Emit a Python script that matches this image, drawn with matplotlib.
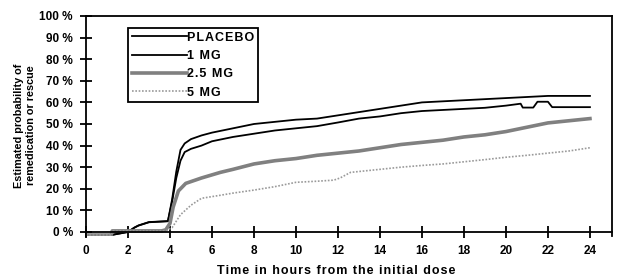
import matplotlib
matplotlib.use("Agg")
import matplotlib.pyplot as plt

plt.rcParams['font.family'] = ['Liberation Sans', 'DejaVu Sans']
plt.rcParams['font.weight'] = 'bold'

series_names = ["PLACEBO", "1 MG", "2.5 MG", "5 MG"]

placebo_t = [0, 1.2, 2.0, 2.3, 2.5, 3.0, 3.9, 4.1, 4.3, 4.5, 4.7, 5.0, 5.5, 6.0, 7.0, 8.0, 9.0, 10.0,
             11.0, 12.0, 13.0, 14.0, 15.0, 16.0, 17.0, 18.0, 19.0, 20.0, 21.0, 22.0, 23.0, 24.0]
placebo_v = [-1.4, -1.4, 0, 2, 3, 4.6, 5, 15, 28, 38, 41, 43, 44.7, 46, 48, 50, 51, 52,
             52.5, 54, 55.5, 57, 58.5, 60, 60.5, 61, 61.5, 62, 62.5, 63, 63, 63]

mg1_t = [0, 1.2, 2.0, 2.3, 2.5, 3.0, 3.9, 4.1, 4.3, 4.5, 4.7, 5.0, 5.5, 6.0, 7.0, 8.0, 9.0, 10.0,
         11.0, 12.0, 13.0, 14.0, 15.0, 16.0, 17.0, 18.0, 19.0, 20.0, 20.7, 20.8, 21.3, 21.5, 22.0,
         22.2, 24.0]
mg1_v = [-1.4, -1.4, 0, 2, 3, 4.5, 5, 14, 25, 33, 37, 38.5, 40, 42, 44, 45.5, 47, 48,
         49, 50.7, 52.5, 53.5, 55, 56, 56.5, 57, 57.5, 58.5, 59.4, 57.6, 57.6, 60.3, 60.3,
         57.8, 57.8]

mg25_t = [0, 1.2, 1.25, 3.6, 3.8, 4.0, 4.15, 4.4, 4.75, 5.5, 6.4, 7.0, 8.0, 9.0, 10.0, 11.0, 12.0,
          13.0, 14.0, 15.0, 16.0, 17.0, 18.0, 19.0, 20.0, 21.0, 22.0, 23.0, 24.0]
mg25_v = [-1.4, -1.4, 0.5, 0.5, 1, 4, 11.5, 19, 22.5, 25, 27.6, 29, 31.5, 33, 34, 35.5, 36.5,
          37.5, 39, 40.5, 41.5, 42.5, 44, 45, 46.5, 48.5, 50.5, 51.5, 52.5]

mg5_t = [0, 1.2, 1.25, 3.8, 4.1, 4.5, 5.0, 5.5, 6.4, 7.0, 8.0, 9.0, 10.0, 11.0, 11.8, 12.1, 12.6,
         13.0, 14.0, 15.0, 16.0, 17.0, 18.0, 19.0, 20.0, 21.0, 22.0, 23.0, 24.0]
mg5_v = [-1.4, -1.4, 0.5, 0.5, 2, 8, 12.4, 15.6, 17, 18, 19.4, 21, 23, 23.5, 24, 25, 27.6,
         28, 29, 30, 30.8, 31.5, 32.5, 33.5, 34.6, 35.5, 36.5, 37.5, 39]

x_ticks = list(range(0, 25, 2))
y_ticks = list(range(0, 101, 10))
y_tick_labels = [f"{v} %" for v in y_ticks]


def spaced(s, sep='\u200a'):
    return sep.join(s)


fig = plt.figure(figsize=(6.17, 2.79), dpi=100)
ax = fig.add_axes([86/617, 1 - 236.3/279, 526/617, 220.3/279])

styles = [
    dict(color='black', lw=1.3),
    dict(color='black', lw=1.3),
    dict(color='#808080', lw=2.6),
    dict(color='#9a9a9a', lw=1.2, linestyle=(0, (1, 1))),
]
data = [(placebo_t, placebo_v), (mg1_t, mg1_v), (mg25_t, mg25_v), (mg5_t, mg5_v)]
for (t, v), name, st in zip(data, series_names, styles):
    ax.plot(t, v, label=spaced(name), **st)

ax.set_xlim(0, 25.05)
ax.set_ylim(-2, 100)
ax.spines['bottom'].set_position(('data', 0))
for s in ax.spines.values():
    s.set_linewidth(1.3)
ax.set_xticks(x_ticks)
ax.set_yticks(y_ticks)
ax.set_yticklabels(y_tick_labels)
ax.tick_params(axis='both', direction='inout', length=9, width=1.3, labelsize=8.5, pad=5)
ax.tick_params(axis='y', pad=5)
for lab in ax.get_xticklabels() + ax.get_yticklabels():
    lab.set_fontweight('bold')

ax.set_xlabel(spaced("Time in hours from the initial dose"), fontsize=9,
              fontweight='bold', labelpad=5)
ax.xaxis.set_label_coords((336-86)/526, -0.13)
fig.text(0.04, 0.55, "Estimated probability of\nremedication or rescue", rotation=90,
         ha='center', va='center', fontsize=7.8, fontweight='bold', linespacing=1.25)

leg = ax.legend(loc='upper left', bbox_to_anchor=((128-86)/526, (236.3-28)/220.3),
                borderaxespad=0, handlelength=4.4, handletextpad=0.0,
                labelspacing=0.5, borderpad=0.3, fancybox=False, framealpha=1,
                edgecolor='black', prop={'weight': 'bold', 'size': 9})
leg.get_frame().set_linewidth(1.3)

fig.savefig("out.png", dpi=100)
